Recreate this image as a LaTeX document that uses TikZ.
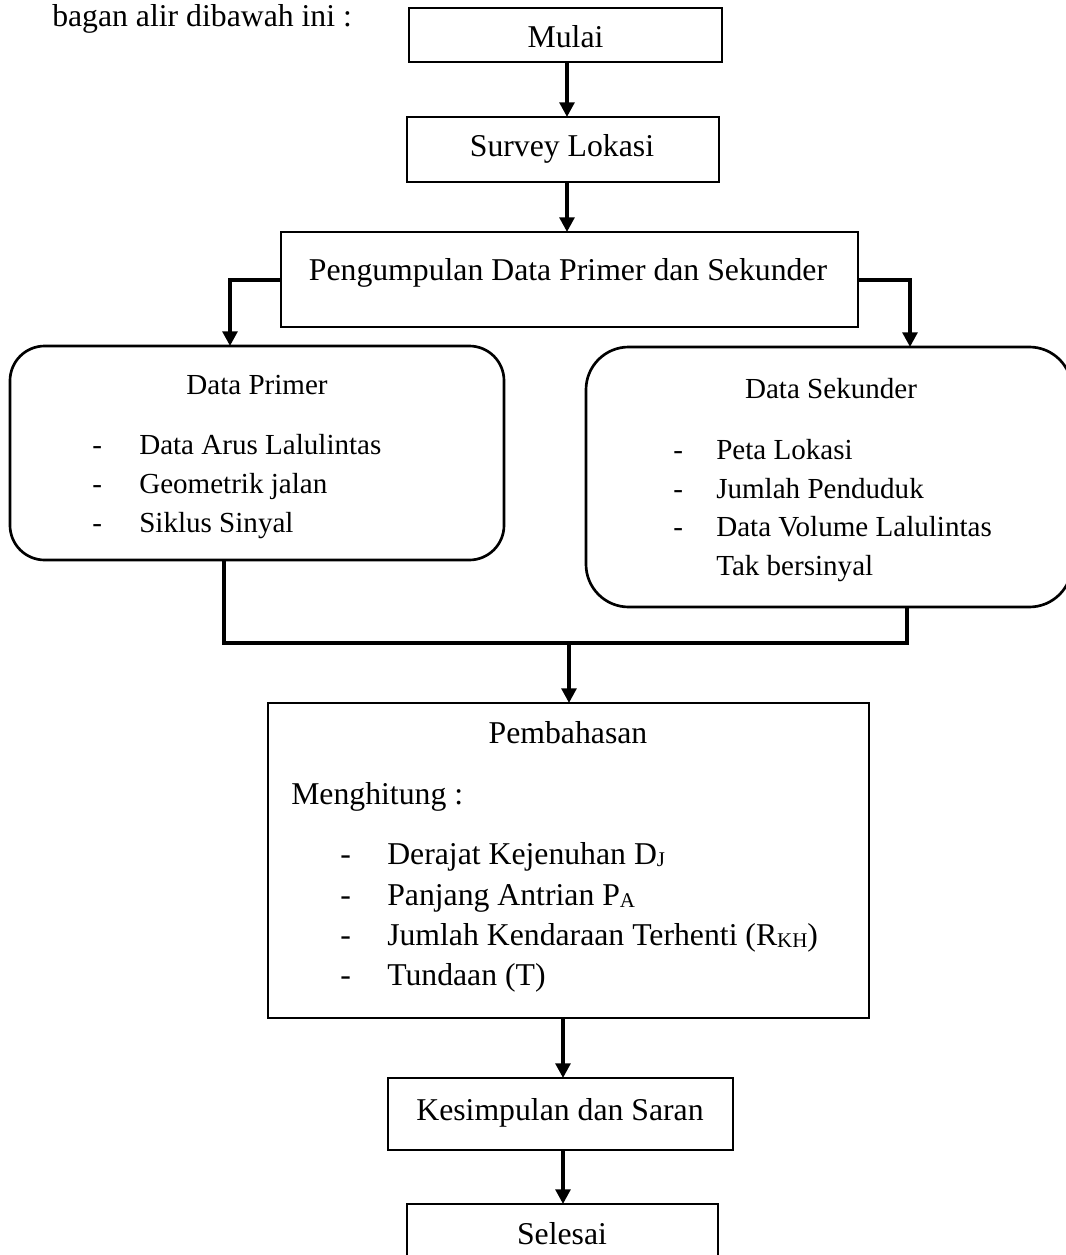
\documentclass[tikz,border=0pt]{standalone}
\usepackage{fontspec}
\setmainfont{Liberation Serif}
\usetikzlibrary{arrows.meta}
\newcommand\mysub[1]{\raisebox{-2.2pt}{\fontsize{15.7pt}{16pt}\selectfont #1}}
\begin{document}
\begin{tikzpicture}[x=0.75pt,y=-0.75pt,
  box/.style={draw, line width=2pt, inner sep=0pt, outer sep=0pt},
  rbox/.style={box, rounded corners=#1},
  txt/.style={font=\fontsize{23.8pt}{28pt}\selectfont, inner sep=0pt, anchor=base},
  ltxt/.style={txt, anchor=base west},
  stxt/.style={font=\fontsize{21.8pt}{26pt}\selectfont, inner sep=0pt, anchor=base west},
  sctxt/.style={stxt, anchor=base},
  conn/.style={line width=3pt},
  arr/.style={conn, -{Triangle[length=11pt,width=11pt]}}]
\useasboundingbox (0,0) rectangle (1066,1255);

% boxes
\node[box, minimum width=234.75pt, minimum height=40.5pt] (mulai) at (565.5,35) {};
\node[box, minimum width=234pt, minimum height=48.75pt] (survey) at (563,149.5) {};
\node[box, minimum width=432.75pt, minimum height=71.25pt] (peng) at (569.5,279.5) {};
\node[rbox=26pt, minimum width=370.5pt, minimum height=160.5pt] (dp) at (257,453) {};
\node[rbox=32pt, minimum width=364.5pt, minimum height=195pt] (ds) at (829,477) {};
\node[box, minimum width=450.75pt, minimum height=236.25pt] (pemb) at (568.5,860.5) {};
\node[box, minimum width=258.75pt, minimum height=54pt] (kes) at (560.5,1114) {};
\node[box, minimum width=233.25pt, minimum height=52.5pt] (sel) at (562.5,1239) {};

% texts
\node[ltxt] (intro) at (52,27) {bagan alir dibawah ini :};
\node[txt] (tmulai) at (565.5,48) {Mulai};
\node[txt] (tsurvey) at (562,157) {Survey Lokasi};
\node[txt] (tpeng) at (568,280) {Pengumpulan Data Primer dan Sekunder};

\node[sctxt] (tdp) at (257,394) {Data Primer};
\node[stxt] (dpa0) at (92,454) {-};
\node[stxt] (dpa) at (139,454) {Data Arus Lalulintas};
\node[stxt] (dpb0) at (92,493) {-};
\node[stxt] (dpb) at (139,493) {Geometrik jalan};
\node[stxt] (dpc0) at (92,532) {-};
\node[stxt] (dpc) at (139,532) {Siklus Sinyal};

\node[sctxt] (tds) at (831,398) {Data Sekunder};
\node[stxt] (dsa0) at (673,459) {-};
\node[stxt] (dsa) at (716,459) {Peta Lokasi};
\node[stxt] (dsb0) at (673,498) {-};
\node[stxt] (dsb) at (716,498) {Jumlah Penduduk};
\node[stxt] (dsc0) at (673,536) {-};
\node[stxt] (dsc) at (716,536) {Data Volume Lalulintas};
\node[stxt] (dsd) at (716,575) {Tak bersinyal};

\node[txt] (tpemb) at (568,743) {Pembahasan};
\node[ltxt] (tmeng) at (291,804) {Menghitung :};
\node[ltxt] (pa0) at (340,864) {-};
\node[ltxt] (pa) at (387,864) {Derajat Kejenuhan D\mysub{J}};
\node[ltxt] (pb0) at (340,905) {-};
\node[ltxt] (pb) at (387,905) {Panjang Antrian P\mysub{A}};
\node[ltxt] (pc0) at (340,945) {-};
\node[ltxt] (pc) at (387,945) {Jumlah Kendaraan Terhenti (R\mysub{KH})};
\node[ltxt] (pd0) at (340,985) {-};
\node[ltxt] (pd) at (387,985) {Tundaan (T)};

\node[txt] (tkes) at (560,1120) {Kesimpulan dan Saran};
\node[txt] (tsel) at (562,1244) {Selesai};

% helper coordinates
\coordinate (ax) at (567,0);
\coordinate (la) at (230,0);
\coordinate (ra) at (910,0);
\coordinate (jl) at (224,643);
\coordinate (jr) at (907,643);
\coordinate (jc) at (569,643);
\coordinate (bx) at (563,0);

% connectors
\draw[arr] (ax |- mulai.south) -- (ax |- survey.north);
\draw[arr] (ax |- survey.south) -- (ax |- peng.north);
\draw[arr] (peng.west) -| (la |- dp.north);
\draw[arr] (peng.east) -| (ra |- ds.north);
\draw[conn] (jl |- dp.south) -- (jl) -- (jr) -- (jr |- ds.south);
\draw[arr] (jc) -- (jc |- pemb.north);
\draw[arr] (bx |- pemb.south) -- (bx |- kes.north);
\draw[arr] (bx |- kes.south) -- (bx |- sel.north);
\end{tikzpicture}
\end{document}
